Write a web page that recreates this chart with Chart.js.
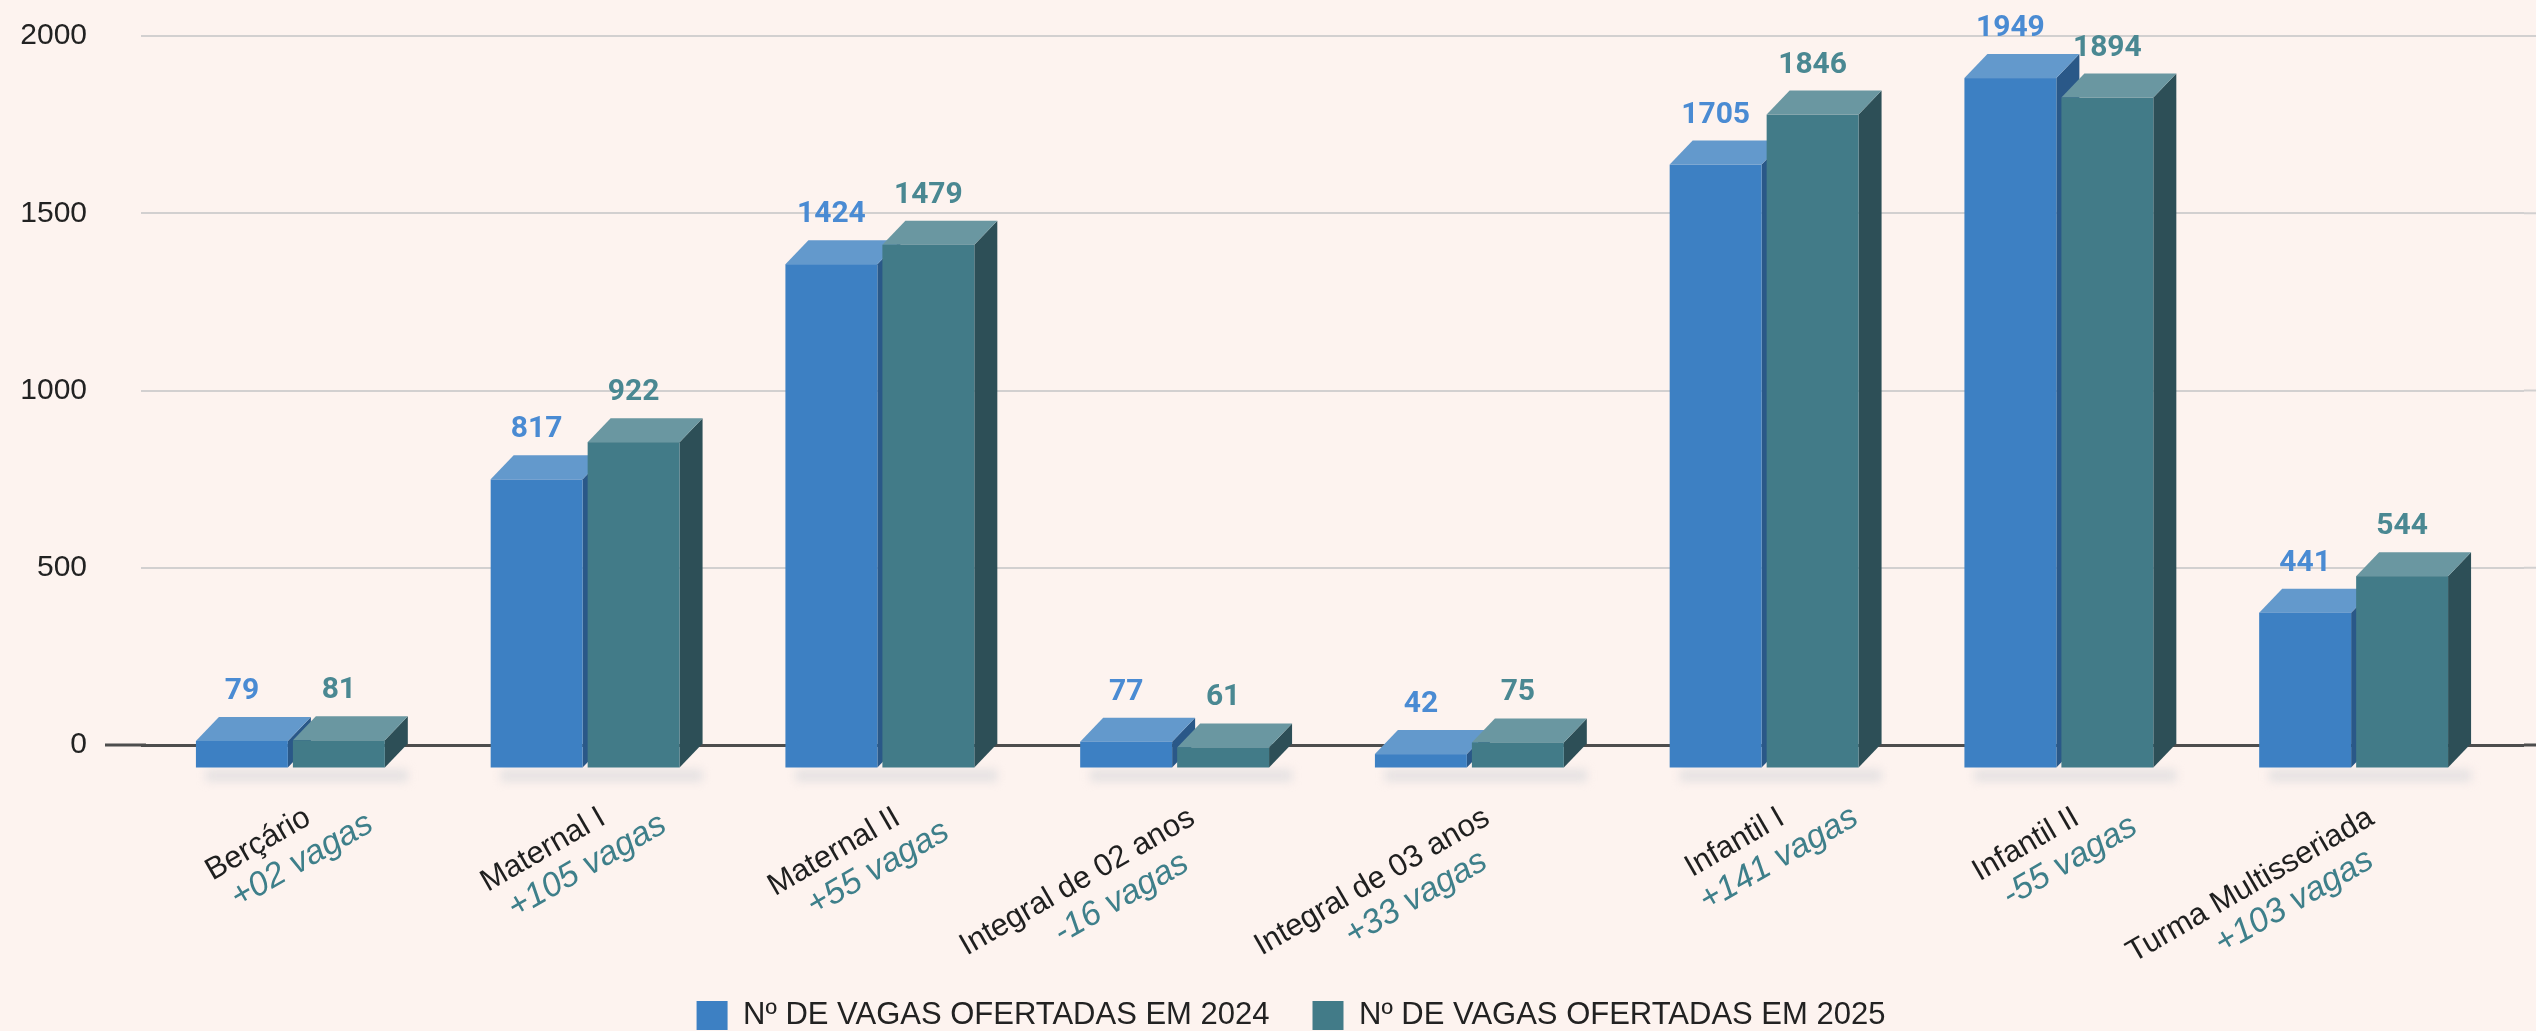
<!DOCTYPE html>
<html>
<head>
<meta charset="utf-8">
<script src="https://cdn.jsdelivr.net/npm/chart.js@4/dist/chart.umd.min.js"></script>
<style>
  html, body { margin: 0; padding: 0; background: #fdf3ef; }
  canvas { display: block; }
</style>
</head>
<body>
<canvas id="chart" width="2536" height="1031"></canvas>
<script>
// data
const categories = ['Berçário', 'Maternal I', 'Maternal II', 'Integral de 02 anos', 'Integral de 03 anos', 'Infantil I', 'Infantil II', 'Turma Multisseriada'];
const vagas2024 = [79, 817, 1424, 77, 42, 1705, 1949, 441];
const vagas2025 = [81, 922, 1479, 61, 75, 1846, 1894, 544];
const diffLabels = ['+02 vagas', '+105 vagas', '+55 vagas', '-16 vagas', '+33 vagas', '+141 vagas', '-55 vagas', '+103 vagas'];
const seriesNames = ['Nº DE VAGAS OFERTADAS EM 2024', 'Nº DE VAGAS OFERTADAS EM 2025'];

const BG = '#fdf3ef';
const DX = 23, DY = 24; // 3d depth
const palette = [
    { front: '#3d80c3', top: '#6399cc', side: '#2a5888', label: '#4a8bd3' },
    { front: '#427b88', top: '#6a97a1', side: '#2d4f57', label: '#4a8892' }
];
const TEXT_FONT = "'Liberation Sans', Arial, sans-serif";

function drawBox(ctx, x, y, base, w, c) {
    const l = x - w / 2, r = x + w / 2;
    // side face
    ctx.fillStyle = c.side;
    ctx.beginPath();
    ctx.moveTo(r - DX, y + DY); ctx.lineTo(r, y); ctx.lineTo(r, base); ctx.lineTo(r - DX, base + DY);
    ctx.closePath(); ctx.fill();
    // top face
    ctx.fillStyle = c.top;
    ctx.beginPath();
    ctx.moveTo(l - DX, y + DY); ctx.lineTo(l, y); ctx.lineTo(r, y); ctx.lineTo(r - DX, y + DY);
    ctx.closePath(); ctx.fill();
    // front face
    ctx.fillStyle = c.front;
    ctx.fillRect(l - DX, y + DY, w, base - y);
}

const bars3d = {
    id: 'bars3d',
    beforeDraw(chart) {
        const ctx = chart.ctx;
        ctx.save();
        ctx.fillStyle = BG;
        ctx.fillRect(0, 0, chart.width, chart.height);
        ctx.restore();
    },
    afterLayout(chart) {
        // legend sits a bit lower and right of the default spot
        chart.legend.top += 10;
        chart.legend.bottom += 10;
        chart.legend.left += 29;
        chart.legend.right += 29;
    },
    beforeDatasetsDraw(chart) {
        const ctx = chart.ctx, area = chart.chartArea, y = chart.scales.y;
        ctx.save();
        // grid lines run to the right edge, zero line further left
        y.ticks.forEach(t => {
            const py = y.getPixelForValue(t.value);
            ctx.beginPath();
            ctx.strokeStyle = t.value === 0 ? '#4d4d4d' : '#d2d0d0';
            ctx.lineWidth = t.value === 0 ? 3 : 2;
            ctx.moveTo(area.right, py); ctx.lineTo(chart.width, py);
            if (t.value === 0) { ctx.moveTo(area.left - 61, py); ctx.lineTo(area.left - 20, py); }
            ctx.stroke();
        });
        // soft floor shadows
        const m0 = chart.getDatasetMeta(0), m1 = chart.getDatasetMeta(1);
        ctx.filter = 'blur(5px)';
        ctx.fillStyle = 'rgba(200,204,210,0.45)';
        m0.data.forEach((b0, i) => {
            const b1 = m1.data[i];
            const l = b0.x - b0.width / 2 - DX, r = b1.x + b1.width / 2;
            ctx.fillRect(l + 10, b0.base + DY + 2, r - l - 10, 12);
        });
        ctx.filter = 'none';
        ctx.restore();
    },
    beforeDatasetDraw() {
        return false; // bars are drawn as 3d boxes below
    },
    afterDatasetsDraw(chart) {
        const ctx = chart.ctx;
        ctx.save();
        chart.data.datasets.forEach((ds, d) => {
            chart.getDatasetMeta(d).data.forEach(bar => {
                drawBox(ctx, bar.x, bar.y, bar.base, bar.width, palette[d]);
            });
        });
        // value labels
        ctx.font = "bold 30px Roboto, 'Open Sans', sans-serif";
        ctx.textAlign = 'center';
        ctx.textBaseline = 'alphabetic';
        chart.data.datasets.forEach((ds, d) => {
            ctx.fillStyle = palette[d].label;
            chart.getDatasetMeta(d).data.forEach((bar, i) => {
                ctx.fillText(String(ds.data[i]), bar.x - DX, bar.y - 18);
            });
        });
        ctx.restore();
    },
    afterDraw(chart) {
        // two-line rotated category labels
        const ctx = chart.ctx, x = chart.scales.x;
        const ang = -30 * Math.PI / 180;
        ctx.save();
        categories.forEach((cat, i) => {
            const px = x.getPixelForValue(i);
            ctx.save();
            ctx.translate(px - 1, x.top + 78);
            ctx.rotate(ang);
            ctx.font = '31px ' + TEXT_FONT;
            ctx.fillStyle = '#1f1f1f';
            ctx.textAlign = 'right';
            ctx.textBaseline = 'alphabetic';
            const w1 = ctx.measureText(cat).width;
            ctx.fillText(cat, 0, 0);
            ctx.font = 'italic 34px ' + TEXT_FONT;
            ctx.fillStyle = '#3e7f8a';
            ctx.textAlign = 'center';
            ctx.fillText(diffLabels[i], -w1 / 2 + 30, 37);
            ctx.restore();
        });
        ctx.restore();
    }
};

new Chart(document.getElementById('chart'), {
    type: 'bar',
    data: {
        labels: categories,
        datasets: [
            { label: seriesNames[0], data: vagas2024, backgroundColor: palette[0].front, borderWidth: 0 },
            { label: seriesNames[1], data: vagas2025, backgroundColor: palette[1].front, borderWidth: 0 }
        ]
    },
    options: {
        responsive: false,
        animation: false,
        devicePixelRatio: 1,
        categoryPercentage: 0.658,
        barPercentage: 0.948,
        layout: { padding: { top: 36, left: 0, right: 12, bottom: 0 } },
        plugins: {
            legend: {
                position: 'bottom',
                labels: {
                    boxWidth: 31,
                    boxHeight: 29,
                    padding: 43,
                    color: '#222',
                    font: { family: TEXT_FONT, size: 31 }
                }
            },
            tooltip: { enabled: false }
        },
        scales: {
            x: {
                grid: { display: false },
                border: { display: false },
                ticks: { display: false },
                afterFit(scale) { scale.height = 202; }
            },
            y: {
                min: 0,
                max: 2000,
                ticks: {
                    stepSize: 500,
                    padding: 54,
                    color: '#222',
                    font: { family: TEXT_FONT, size: 30 },
                    callback: v => String(v)
                },
                grid: {
                    tickLength: 25,
                    color: c => c.tick && c.tick.value === 0 ? '#4d4d4d' : '#d2d0d0',
                    lineWidth: c => c.tick && c.tick.value === 0 ? 3 : 2
                },
                border: { display: false },
                afterFit(scale) {
                    scale.width = 166;
                    // the wide label padding should not push the plot down
                    scale.paddingTop = 16;
                    scale.paddingBottom = 16;
                }
            }
        }
    },
    plugins: [bars3d]
});
</script>
</body>
</html>
